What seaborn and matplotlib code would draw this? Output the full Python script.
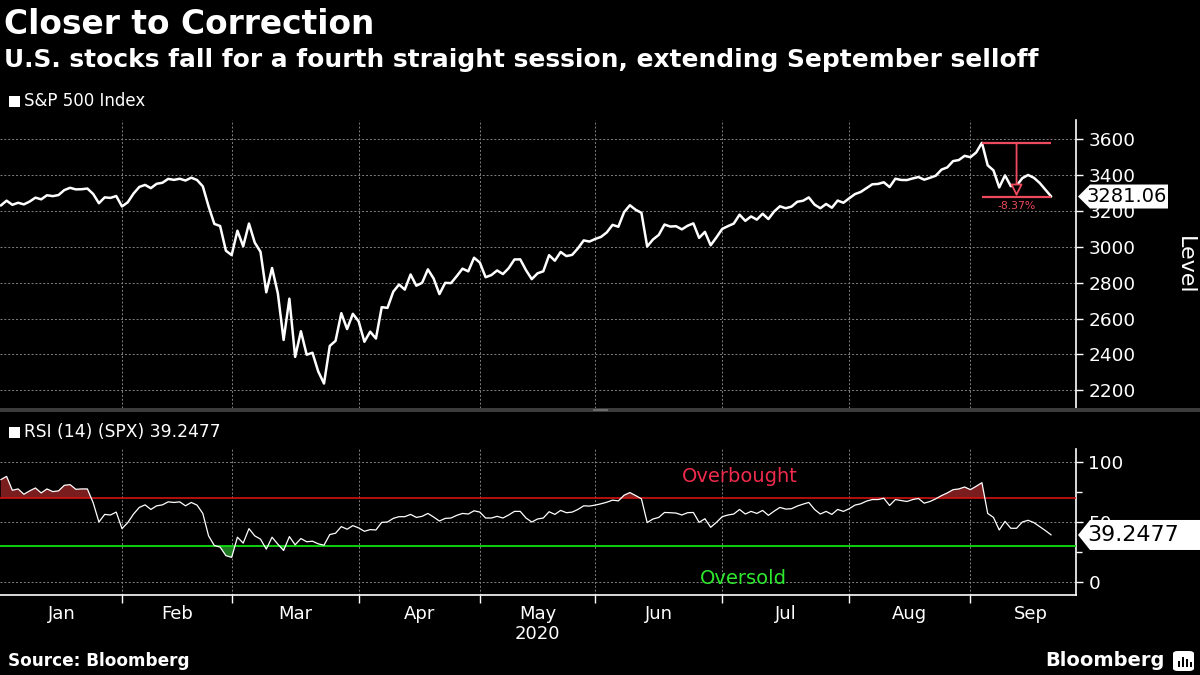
import numpy as np
import pandas as pd
import seaborn as sns
import matplotlib.pyplot as plt
from matplotlib.patches import Polygon, Rectangle, FancyBboxPatch
from matplotlib.transforms import blended_transform_factory

# trading days, Dec 31 2019 .. Sep 21 2020
months = ["Jan", "Feb", "Mar", "Apr", "May", "Jun", "Jul", "Aug", "Sep"]
month_days = [21, 19, 22, 21, 20, 22, 22, 21, 21]

spx = [3230.78,
       3257.85, 3234.85, 3246.28, 3237.18, 3253.05, 3274.70, 3265.35, 3288.13, 3283.15, 3289.29, 3316.81,
       3329.62, 3320.79, 3321.75, 3325.54, 3295.47, 3243.63, 3276.24, 3273.40, 3283.66, 3225.52,
       3248.92, 3297.59, 3334.69, 3345.78, 3327.71, 3352.09, 3357.75, 3379.45, 3373.94, 3380.16,
       3370.29, 3386.15, 3373.23, 3337.75, 3225.89, 3128.21, 3116.39, 2978.76, 2954.22,
       3090.23, 3003.37, 3130.12, 3023.94, 2972.37, 2746.56, 2882.23, 2741.38, 2480.64, 2711.02, 2386.13,
       2529.19, 2398.10, 2409.39, 2304.92, 2237.40, 2447.33, 2475.56, 2630.07, 2541.47, 2626.65, 2584.59,
       2470.50, 2526.90, 2488.65, 2663.68, 2659.41, 2749.98, 2789.82, 2761.63, 2846.06, 2783.36, 2799.55,
       2874.56, 2823.16, 2736.56, 2799.31, 2797.80, 2836.74, 2878.48, 2863.39, 2939.51, 2912.43,
       2830.71, 2842.74, 2868.44, 2848.42, 2881.19, 2929.80, 2930.32, 2870.12, 2820.00, 2852.50,
       2863.70, 2953.91, 2922.94, 2971.61, 2948.51, 2955.45, 2991.77, 3036.13, 3029.73, 3044.31,
       3055.73, 3080.82, 3122.87, 3112.35, 3193.93, 3232.39, 3207.18, 3190.14, 3002.10, 3041.31, 3066.59,
       3124.74, 3113.49, 3115.34, 3097.74, 3117.86, 3131.29, 3050.33, 3083.76, 3009.05, 3053.24, 3100.29,
       3115.86, 3130.01, 3179.72, 3145.32, 3169.94, 3152.05, 3185.04, 3155.22, 3197.52, 3226.56, 3215.57,
       3224.73, 3251.84, 3257.30, 3276.02, 3235.66, 3215.63, 3239.41, 3218.44, 3258.44, 3246.22, 3271.12,
       3294.61, 3306.51, 3327.77, 3349.16, 3351.28, 3360.47, 3333.69, 3380.35, 3373.43, 3372.85, 3381.99,
       3389.78, 3374.85, 3385.51, 3397.16, 3431.28, 3443.62, 3478.73, 3484.55, 3508.01, 3500.31,
       3526.65, 3580.84, 3455.06, 3426.96, 3331.84, 3398.96, 3339.19, 3340.97, 3383.54, 3401.20,
       3385.49, 3357.01, 3319.47, 3281.06]

rsi = [85.1,
       87.8, 76.3, 77.4, 73.0, 75.8, 78.2, 74.1, 77.4, 75.2, 75.8, 80.4,
       81.0, 77.1, 77.4, 77.4, 66.0, 50.0, 56.3, 55.8, 58.2, 44.5,
       49.5, 56.6, 62.1, 64.2, 60.4, 63.4, 64.2, 66.7, 66.2, 66.7,
       63.4, 66.2, 64.0, 57.1, 38.5, 30.5, 29.2, 22.1, 20.7,
       37.4, 32.5, 44.5, 38.5, 35.8, 27.5, 37.4, 31.6, 26.4, 37.9, 31.1,
       36.3, 33.6, 34.1, 31.9, 30.8, 39.6, 40.7, 46.2, 44.0, 47.0, 45.1,
       42.3, 43.7, 43.4, 49.7, 50.0, 53.0, 54.4, 54.4, 56.3, 53.8, 54.7,
       57.1, 54.1, 50.8, 53.0, 53.3, 55.5, 57.1, 56.6, 59.3, 58.2,
       53.3, 53.3, 54.7, 53.3, 55.8, 58.8, 58.8, 53.3, 50.0, 52.5,
       53.3, 58.5, 56.3, 59.6, 57.7, 58.2, 60.4, 63.4, 63.2, 64.0,
       65.1, 66.4, 68.1, 67.5, 72.2, 74.4, 71.9, 69.2, 49.5, 52.5, 53.8,
       57.9, 57.7, 57.4, 55.8, 57.7, 57.9, 49.7, 52.7, 45.6, 49.7, 54.4,
       55.8, 56.6, 60.4, 56.6, 58.8, 57.1, 59.6, 55.5, 59.0, 62.1, 60.7,
       61.0, 63.2, 64.8, 66.2, 60.4, 56.6, 58.8, 56.3, 60.4, 58.8, 61.0,
       64.0, 65.1, 67.3, 68.6, 68.6, 69.7, 63.7, 68.6, 67.8, 67.0, 68.6,
       69.5, 65.6, 67.0, 69.2, 71.9, 74.1, 76.8, 77.4, 79.0, 76.8,
       79.6, 82.6, 57.1, 53.8, 43.4, 50.5, 44.8, 44.8, 50.0, 51.4,
       49.5, 46.2, 42.9, 39.25]

df = pd.DataFrame({"day": np.arange(len(spx)), "spx": spx, "rsi": rsi})

edges = np.concatenate([[0], np.cumsum(month_days)])
boundaries = edges[1:-1]
centers = (edges[:-1] + edges[1:]) / 2

RED = "#ee4a5e"
W, H = 1200, 675

sns.set_theme(style="dark")
plt.rcParams["font.family"] = ["DejaVu Sans"]


def fbox(x0, y0, x1, y1):
    return [x0 / W, 1 - y1 / H, (x1 - x0) / W, (y1 - y0) / H]


fig = plt.figure(figsize=(12, 6.75), dpi=100)
fig.patch.set_facecolor("black")

ax1 = fig.add_axes(fbox(0, 120, 1076, 408))
ax2 = fig.add_axes(fbox(0, 449, 1076, 595))

for ax in (ax1, ax2):
    ax.set_facecolor("black")
    for s in ["left", "top", "bottom"]:
        ax.spines[s].set_visible(False)
    ax.spines["right"].set_color("white")
    ax.spines["right"].set_linewidth(1.2)
    ax.yaxis.tick_right()
    ax.set_xticks(boundaries)
    ax.grid(True, which="major", color="#808080", linestyle=(0, (2, 2)), linewidth=0.7)
    ax.tick_params(axis="y", which="both", colors="white", right=True, labelsize=13.3,
                   length=5, width=1, direction="out", pad=4)

# top panel
sns.lineplot(data=df, x="day", y="spx", ax=ax1, color="white", linewidth=1.8)
ax1.set_xlim(-0.14, 186.3)
ax1.set_ylim(2101, 3708)
ax1.set_yticks(range(2200, 3700, 200))
ax1.tick_params(axis="x", length=0, labelbottom=False)
ax1.set_xlabel("")
ax1.set_ylabel("")

# drawdown marker
i_peak = int(np.argmax(spx))
i_last = len(spx) - 1
peak, last = spx[i_peak], spx[i_last]
mid = (i_peak + i_last) / 2
ax1.hlines([peak, last], i_peak, i_last, color=RED, linewidth=1.6, zorder=5)
ax1.annotate("", xy=(mid, last), xytext=(mid, peak),
             arrowprops=dict(arrowstyle="-|>,head_width=0.3,head_length=0.6",
                             fc="black", ec=RED, lw=1.3, shrinkA=0, shrinkB=0), zorder=6)
ax1.annotate(f"{(last / peak - 1) * 100:.2f}%", xy=(mid, last), xytext=(0, -3),
             textcoords="offset points", ha="center", va="top", color=RED, fontsize=7.8)

# bottom panel
sns.lineplot(data=df, x="day", y="rsi", ax=ax2, color="white", linewidth=0.9, zorder=4)
x = df["day"].to_numpy()
r = df["rsi"].to_numpy()
ax2.fill_between(x, r, 70, where=r > 70, interpolate=True, color="#7a1d1f", linewidth=0, zorder=2)
ax2.fill_between(x, r, 30, where=r < 30, interpolate=True, color="#1f7a22", linewidth=0, zorder=2)
ax2.axhline(70, color="#e01414", linewidth=1.1, zorder=3)
ax2.axhline(30, color="#10e010", linewidth=1.3, zorder=3)
ax2.set_xlim(-0.14, 186.3)
ax2.set_ylim(-10.5, 110.5)
ax2.set_yticks([0, 50, 100])
ax2.set_yticks([25, 75], minor=True)
ax2.tick_params(axis="y", which="minor", length=4)
ax2.spines["bottom"].set_visible(True)
ax2.spines["bottom"].set_color("white")
ax2.spines["bottom"].set_linewidth(1.2)
ax2.tick_params(axis="x", which="major", bottom=True, colors="white", length=6, width=1,
                direction="out", labelbottom=False)
ax2.set_xticks(centers, minor=True)
ax2.set_xticklabels(months, minor=True)
ax2.tick_params(axis="x", which="minor", bottom=True, length=0, labelsize=13, pad=7, colors="white")
ax2.set_xlabel("")
ax2.set_ylabel("")
trans = blended_transform_factory(ax2.transData, ax2.transAxes)
ax2.text(centers[4], -0.27, "2020", transform=trans, ha="center", va="center",
         color="white", fontsize=13)

fig.text(740 / W, 1 - 476 / H, "Overbought", color="#ee2b4c", fontsize=14, ha="center", va="center")
fig.text(743 / W, 1 - 579 / H, "Oversold", color="#2ee82e", fontsize=14, ha="center", va="center")


# last value tags
def tag(ax, value, text, right, h, fs):
    py = ax.transData.transform((0, value))[1] / H
    hh = h / H / 2
    pts = [[1078 / W, py], [1090 / W, py + hh], [right / W, py + hh],
           [right / W, py - hh], [1090 / W, py - hh]]
    fig.add_artist(Polygon(pts, closed=True, transform=fig.transFigure,
                           facecolor="white", edgecolor="none", zorder=10))
    fig.text(1087 / W, py, text, color="black", fontsize=fs, ha="left", va="center", zorder=11)


tag(ax1, last, f"{last:.2f}", 1168, 24, 14)
tag(ax2, rsi[-1], "39.2477", 1200, 30, 16)

fig.text(1185 / W, 1 - 265 / H, "Level", color="white", fontsize=16, rotation=270,
         ha="center", va="center")

# panel separator
fig.add_artist(Rectangle((0, 1 - 412 / H), 1, 4 / H, transform=fig.transFigure,
                         facecolor="#3c3c3c", edgecolor="none"))
fig.add_artist(Rectangle((593 / W, 1 - 411 / H), 15 / W, 2 / H, transform=fig.transFigure,
                         facecolor="#6a6a6a", edgecolor="none"))

# legends
fig.add_artist(Rectangle((9 / W, 1 - 107 / H), 11 / W, 11 / H, transform=fig.transFigure,
                         facecolor="white", edgecolor="none"))
fig.text(24 / W, 1 - 101 / H, "S&P 500 Index", color="white", fontsize=12, ha="left", va="center")
fig.add_artist(Rectangle((9 / W, 1 - 438 / H), 11 / W, 11 / H, transform=fig.transFigure,
                         facecolor="white", edgecolor="none"))
fig.text(24 / W, 1 - 432 / H, "RSI (14) (SPX) 39.2477", color="white", fontsize=12.3,
         ha="left", va="center")

# titles
fig.text(4 / W, 1 - 24 / H, "Closer to Correction", color="white", fontsize=23.7,
         fontweight="bold", ha="left", va="center")
fig.text(4 / W, 1 - 60 / H, "U.S. stocks fall for a fourth straight session, extending September selloff",
         color="white", fontsize=17.9, fontweight="bold", ha="left", va="center")
fig.text(8 / W, 1 - 661 / H, "Source: Bloomberg", color="white", fontsize=12.2,
         fontweight="bold", ha="left", va="center")
fig.text(1165 / W, 1 - 661 / H, "Bloomberg", color="white", fontsize=14,
         fontweight="bold", ha="right", va="center")
fig.add_artist(FancyBboxPatch((1173 / W, 1 - 671 / H), 21 / W, 20 / H,
                              boxstyle="round,pad=0,rounding_size=0.004",
                              transform=fig.transFigure, facecolor="white", edgecolor="none"))
for bx, bh in [(1178, 6), (1182, 10), (1186, 8), (1190, 5)]:
    fig.add_artist(Rectangle((bx / W, 1 - 667 / H), 2 / W, bh / H, transform=fig.transFigure,
                             facecolor="black", edgecolor="none"))

plt.savefig("out.png", dpi=100, facecolor="black")
plt.close()
